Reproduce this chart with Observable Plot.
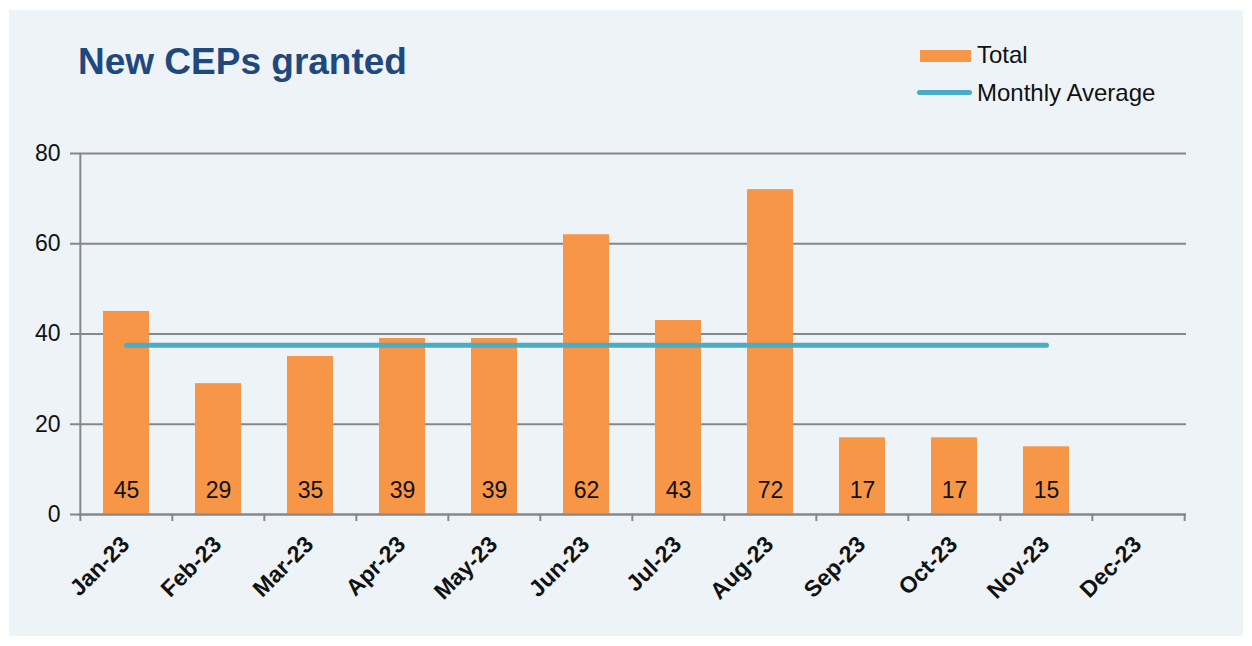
<!DOCTYPE html>
<html>
<head>
<meta charset="utf-8">
<script src="https://cdn.jsdelivr.net/npm/d3@7"></script>
<script src="https://cdn.jsdelivr.net/npm/@observablehq/plot@0.6"></script>
<style>
  html, body { margin: 0; padding: 0; background: #ffffff; }
  #page { position: relative; width: 1252px; height: 646px; overflow: hidden; font-family: "Liberation Sans", Arial, sans-serif; }
  #panel { position: absolute; left: 9px; top: 10px; width: 1234px; height: 626px; background: #eef3f8; }
  #title { position: absolute; left: 78px; top: 41px; font-size: 37px; font-weight: bold; color: #1f497d; white-space: nowrap; }
  .leg { position: absolute; font-size: 24px; color: #111; white-space: nowrap; }
  .sw { position: absolute; }
  #chart { position: absolute; left: 0; top: 0; }
</style>
</head>
<body>
<div id="page">
  <div id="panel"></div>
  <div id="title">New CEPs granted</div>
  <div class="sw" style="left:920px; top:50px; width:51px; height:12px; background:#f79646;"></div>
  <div class="leg" style="left:977px; top:41px;">Total</div>
  <div class="sw" style="left:917px; top:90px; width:55px; height:5px; border-radius:3px; background:#4bacc6;"></div>
  <div class="leg" style="left:977px; top:79px;">Monthly Average</div>
  <div id="chart"></div>
</div>
<script>
const months = ["Jan-23","Feb-23","Mar-23","Apr-23","May-23","Jun-23","Jul-23","Aug-23","Sep-23","Oct-23","Nov-23","Dec-23"];
const totals = [45, 29, 35, 39, 39, 62, 43, 72, 17, 17, 15, null];
const avgMonths = ["Jan-23","Feb-23","Mar-23","Apr-23","May-23","Jun-23","Jul-23","Aug-23","Sep-23","Oct-23","Nov-23"];
const avgValues = [37.5, 37.5, 37.5, 37.5, 37.5, 37.5, 37.5, 37.5, 37.5, 37.5, 37.5];
const yTicks = [0, 20, 40, 60, 80];

const bars = months.map((m, i) => ({month: m, total: totals[i]})).filter(d => d.total != null);
const avg = avgMonths.map((m, i) => ({month: m, value: avgValues[i]}));

const W = 1252, H = 646, mL = 78, mR = 66, mT = 153, mB = 132;
const half = (W - mL - mR) / months.length / 2;

const chart = Plot.plot({
  width: W, height: H,
  marginLeft: mL, marginRight: mR, marginTop: mT, marginBottom: mB,
  style: {background: "transparent", fontFamily: "Liberation Sans, Arial, sans-serif", overflow: "visible"},
  x: {type: "band", domain: months, paddingInner: 0.5, paddingOuter: 0.25, align: 0.5},
  y: {domain: [0, 80]},
  marks: [
    Plot.gridY(yTicks, {stroke: "#878787", strokeOpacity: 1, strokeWidth: 2}),
    Plot.axisY(yTicks, {tickSize: 8, tickPadding: 10, fontSize: 23, fill: "#111", stroke: "#878787", strokeWidth: 2, label: null}),
    Plot.barY(bars, {x: "month", y: "total", fill: "#f79646"}),
    Plot.ruleY([0], {stroke: "#878787", strokeWidth: 2}),
    Plot.ruleX([months[0]], {y1: 0, y2: 80, dx: -half, stroke: "#878787", strokeWidth: 2}),
    Plot.axisX(months, {text: null, tickSize: 7, dx: -half, stroke: "#878787", strokeWidth: 2, label: null}),
    Plot.axisX([months[months.length - 1]], {text: null, tickSize: 7, dx: half, stroke: "#878787", strokeWidth: 2, label: null}),
    Plot.axisX(months, {tickSize: 0, tickRotate: -45, tickPadding: 26, dx: -1, fontSize: 23, fontWeight: "bold", fill: "#111", label: null, textAnchor: "end"}),
    Plot.lineY(avg, {x: "month", y: "value", stroke: "#4bacc6", strokeWidth: 5, strokeLinecap: "round"}),
    Plot.text(bars, {x: "month", y: 0, text: d => String(d.total), dy: -24, fontSize: 23, fill: "#111"})
  ]
});
document.getElementById("chart").appendChild(chart);
</script>
</body>
</html>
